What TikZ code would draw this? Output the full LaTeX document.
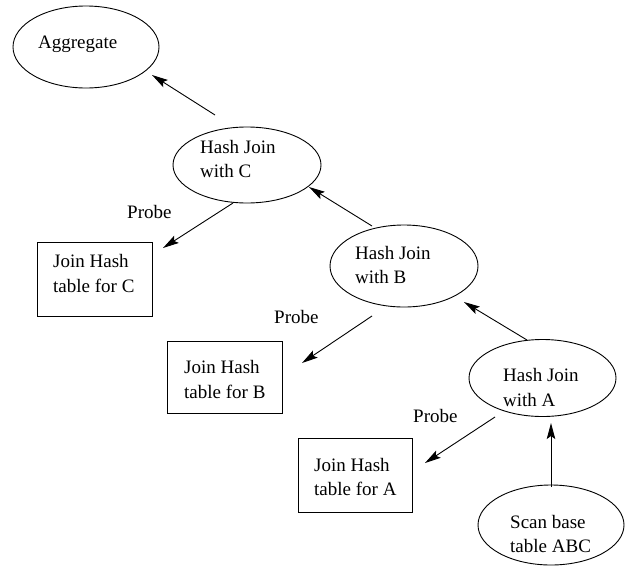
\documentclass[tikz,border=0pt]{standalone}
\usepackage{fontspec}
\setmainfont{Liberation Serif}
\usetikzlibrary{shapes.geometric,arrows.meta,calc}
\tikzset{
  x=1pt, y=-1pt,
  every node/.style={font=\fontsize{19}{23.5}\selectfont},
  oval/.style={draw, ellipse, line width=0.9pt, inner sep=0pt},
  tablebox/.style={draw, rectangle, line width=0.9pt, inner sep=0pt},
  txt/.style={anchor=base west, inner sep=0pt},
  flow/.style={line width=0.9pt, -{Stealth[length=16pt,width=8.5pt,inset=3pt]}}
}
\begin{document}
\begin{tikzpicture}
\useasboundingbox (0,0) rectangle (628,565);
\fill[white] (0,0) rectangle (628,565);

% operator ellipses
\node[oval, minimum width=146pt, minimum height=82pt] (agg) at (86,47) {};
\node[oval, minimum width=148pt, minimum height=76pt] (hjc) at (247,165) {};
\node[oval, minimum width=148pt, minimum height=82pt] (hjb) at (404,266) {};
\node[oval, minimum width=147pt, minimum height=77pt] (hja) at (542.5,378) {};
\node[oval, minimum width=146pt, minimum height=80pt] (scan) at (551,525) {};

% hash tables
\node[tablebox, minimum width=115pt, minimum height=74pt] (boxc) at (94.5,279) {};
\node[tablebox, minimum width=115pt, minimum height=72pt] (boxb) at (224.5,377) {};
\node[tablebox, minimum width=114pt, minimum height=74pt] (boxa) at (355,475) {};

% labels
\node[txt] (taggs) at (38,48) {Aggregate};
\node[txt] (thjc1) at (200,153) {Hash Join};
\node[txt] (thjc2) at (200,177) {with C};
\node[txt] (thjb1) at (355,259) {Hash Join};
\node[txt] (thjb2) at (355,283) {with B};
\node[txt] (thja1) at (503,381) {Hash Join};
\node[txt] (thja2) at (503,406) {with A};
\node[txt] (tscan1) at (510,528) {Scan base};
\node[txt] (tscan2) at (510,552) {table ABC};
\node[txt] (tboxc1) at (53,267) {Join Hash};
\node[txt] (tboxc2) at (53,292) {table for C};
\node[txt] (tboxb1) at (184,373) {Join Hash};
\node[txt] (tboxb2) at (184,398) {table for B};
\node[txt] (tboxa1) at (314,471) {Join Hash};
\node[txt] (tboxa2) at (314,495) {table for A};
\node[txt] (probec) at (127,218) {Probe};
\node[txt] (probeb) at (274,323) {Probe};
\node[txt] (probea) at (413,422) {Probe};

% data flow upward
\draw[flow] ($(hjc)+(-32,-50)$) -- ($(agg)+(66,28)$);
\draw[flow] ($(hjb)+(-32,-40)$) -- ($(hjc)+(62,22)$);
\draw[flow] ($(hja)+(-15.5,-38)$) -- ($(hjb)+(60,36)$);
\draw[flow] ($(scan)+(0,-38)$) -- ($(hja)+(8.5,45)$);

% probes into the hash tables
\draw[flow] ($(hjc)+(-14,38)$) -- ($(boxc)+(68.5,-31)$);
\draw[flow] ($(hjb)+(-32,50)$) -- ($(boxb)+(77.5,-14)$);
\draw[flow] ($(hja)+(-47.5,39)$) -- ($(boxa)+(70,-12)$);
\end{tikzpicture}
\end{document}
